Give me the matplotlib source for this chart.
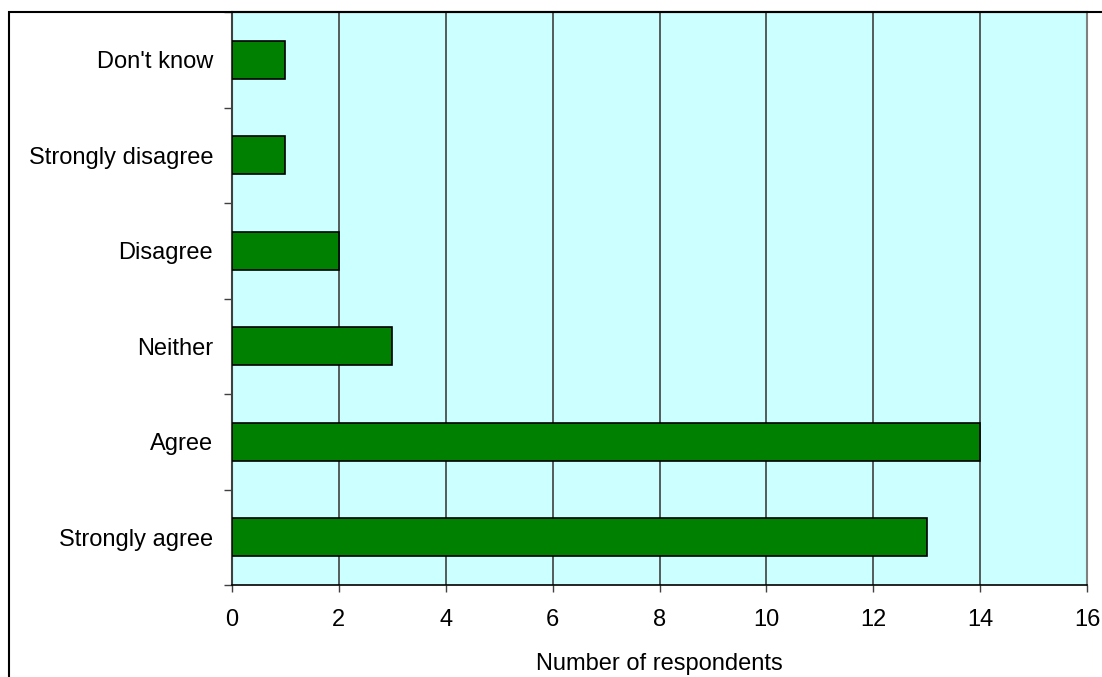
import matplotlib.pyplot as plt
import numpy as np
from matplotlib.patches import Rectangle

plt.rcParams['font.family'] = ['Liberation Sans', 'DejaVu Sans']

# Data (bottom to top)
categories = ["Strongly agree", "Agree", "Neither", "Disagree", "Strongly disagree", "Don't know"]
counts = [13, 14, 3, 2, 1, 1]
x_ticks = [0, 2, 4, 6, 8, 10, 12, 14, 16]

fig = plt.figure(figsize=(11.02, 6.77), dpi=100)
ax = fig.add_axes([232 / 1102, 1 - 585 / 677, (1087 - 232) / 1102, (585 - 12) / 677])

# outer border of the chart area (runs off the right and bottom edges)
fig.patches.append(Rectangle((9 / 1102, -0.1), 1.2, 1 - 12 / 677 + 0.1,
                             transform=fig.transFigure, fill=False,
                             edgecolor="black", linewidth=1.5, zorder=0))

ax.set_facecolor("#ccffff")
y = np.arange(len(categories))
ax.barh(y, counts, height=0.4, color="#008000", edgecolor="black", linewidth=1.2, zorder=3)

ax.set_xlim(0, 16)
ax.set_ylim(-0.5, len(categories) - 0.5)
ax.set_xticks(x_ticks)
ax.set_yticks(y)
ax.set_yticklabels(categories)
ax.set_yticks(np.arange(-0.5, len(categories), 1), minor=True)

ax.tick_params(axis="y", which="major", length=0, pad=13.5, labelsize=17)
ax.tick_params(axis="y", which="minor", length=6, width=1, color="#404040", direction="out")
ax.tick_params(axis="x", length=5, width=1, color="#404040", pad=12, labelsize=17)

ax.grid(axis="x", color="#404040", linewidth=1.2, zorder=1)
ax.set_axisbelow(True)

ax.spines["left"].set_color("#404040")
ax.spines["left"].set_linewidth(1.5)
ax.spines["right"].set_color("#808080")
ax.spines["right"].set_linewidth(1.5)
ax.spines["bottom"].set_color("black")
ax.spines["bottom"].set_linewidth(1.2)
ax.spines["top"].set_color("black")
ax.spines["top"].set_linewidth(1.5)

ax.set_xlabel("Number of respondents", fontsize=17, labelpad=16)

plt.savefig("out.png", dpi=100)
